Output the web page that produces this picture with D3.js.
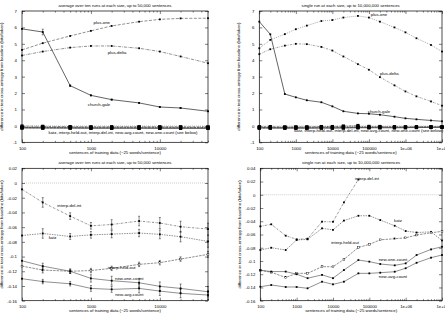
<!DOCTYPE html>
<html>
<head>
<meta charset="utf-8">
<script src="https://cdn.jsdelivr.net/npm/d3@7"></script>
<style>
  html, body { margin: 0; padding: 0; background: #fff; }
  svg { display: block; font-family: "Liberation Sans", Arial, sans-serif; }
</style>
</head>
<body>
<svg id="chart" width="445" height="314"></svg>
<script>
// training set sizes (sentences)
const sizesAvg = [100, 200, 500, 1000, 2000, 5000, 10000, 20000, 50000];
const sizesSingle = [100, 200, 500, 1000, 2000, 5000, 10000, 20000, 50000, 100000, 200000, 500000, 1000000, 2000000, 5000000, 10000000];

// top row, average runs
const plusOneAvg = [4.63, 5.04, 5.48, 5.79, 6.09, 6.35, 6.49, 6.55, 6.56];
const plusDeltaAvg = [4.29, 4.53, 4.77, 4.87, 4.87, 4.73, 4.53, 4.23, 3.82];
const churchGaleAvg = [5.91, 5.72, 2.45, 1.86, 1.6, 1.4, 1.15, 1.09, 0.89];
const churchGaleAvgErr = [0, 0.17, 0.05, 0.03, 0.03, 0.02, 0.02, 0.02, 0.02];

// top row, single run
const plusOneSingle = [4.73, 5.24, 5.59, 5.89, 6.11, 6.39, 6.45, 6.6, 6.7, 6.6, 6.35, 6.0, 5.7, 5.34, 4.93, 4.53];
const plusDeltaSingle = [4.37, 4.67, 4.89, 5.0, 4.98, 4.81, 4.59, 4.23, 3.76, 3.42, 2.97, 2.47, 2.1, 1.8, 1.49, 1.23];
const churchGaleSingle = [6.35, 5.58, 1.94, 1.74, 1.56, 1.44, 1.19, 0.89, 0.76, 0.74, 0.68, 0.56, 0.46, 0.4, 0.33, 0.28];

// bottom row, average runs (with error bars)
const interpDelIntAvg = [-0.0086, -0.0264, -0.045, -0.0582, -0.0564, -0.0517, -0.0544, -0.0594, -0.0626];
const interpDelIntErr = [0, 0.0065, 0.0045, 0.0045, 0.0065, 0.0065, 0.0075, 0.0075, 0.008];
const katzAvg = [-0.0714, -0.0686, -0.0727, -0.0705, -0.0695, -0.068, -0.0698, -0.073, -0.0794];
const katzErr = [0, 0.0065, 0.004, 0.0045, 0.005, 0.005, 0.006, 0.007, 0.008];
const interpHeldOutAvg = [-0.113, -0.1183, -0.12, -0.119, -0.116, -0.1106, -0.1083, -0.1034, -0.097];
const interpHeldOutErr = [0, 0.004, 0.003, 0.003, 0.003, 0.003, 0.003, 0.003, 0.004];
const newOneCountAvg = [-0.1057, -0.113, -0.12, -0.1297, -0.1328, -0.1356, -0.1405, -0.1433, -0.1478];
const newOneCountErr = [0, 0.004, 0.003, 0.005, 0.006, 0.006, 0.006, 0.006, 0.007];
const newAvgCountAvg = [-0.1301, -0.134, -0.137, -0.1433, -0.1446, -0.1433, -0.1469, -0.15, -0.1523];
const newAvgCountErr = [0, 0.003, 0.003, 0.004, 0.004, 0.006, 0.006, 0.006, 0.006];

// bottom row, single run
const interpDelIntSingle = [-0.0477, -0.0446, -0.0618, -0.0673, -0.0663, -0.0406, -0.0408, -0.0115, 0.023];
const katzSingle = [-0.0834, -0.08, -0.0834, -0.0683, -0.0673, -0.0507, -0.053, -0.039, -0.0317, -0.0317, -0.0382, -0.0468, -0.0548, -0.057, -0.056, -0.069];
const interpHeldOutSingle = [-0.1142, -0.117, -0.125, -0.1187, -0.1187, -0.1086, -0.1087, -0.0976, -0.0795, -0.075, -0.068, -0.0664, -0.065, -0.0608, -0.0574, -0.0553];
const newOneCountSingle = [-0.114, -0.116, -0.116, -0.12, -0.126, -0.121, -0.126, -0.1137, -0.0986, -0.101, -0.1046, -0.1066, -0.1036, -0.091, -0.0825, -0.0785];
const newAvgCountSingle = [-0.1389, -0.1363, -0.1393, -0.1393, -0.1413, -0.1313, -0.1353, -0.1313, -0.1187, -0.1187, -0.1177, -0.1162, -0.111, -0.1027, -0.095, -0.091];

// ticks
const xTicksShort = [100, 1000, 10000];
const xTicksLong = [100, 1000, 10000, 100000, 1000000, 10000000];
const xTickLabelsLong = ["100", "1000", "10000", "100000", "1e+06", "1e+07"];
const yTicksTop = [-1, 0, 1, 2, 3, 4, 5, 6, 7];
const yTicksBottomAvg = [-0.16, -0.14, -0.12, -0.1, -0.08, -0.06, -0.04, -0.02, 0, 0.02];
const yTicksBottomSingle = [-0.16, -0.14, -0.12, -0.1, -0.08, -0.06, -0.04, -0.02, 0, 0.02, 0.04];

const titleAvg = "average over ten runs at each size, up to 50,000 sentences";
const titleSingle = "single run at each size, up to 10,000,000 sentences";
const xTitle = "sentences of training data (~25 words/sentence)";
const yTitle = "difference in test cross-entropy from baseline (bits/token)";
const groupLabel = "katz, interp-held-out, interp-del-int, new-avg-count, new-one-count (see below)";

const svg = d3.select("#chart");
const FS = 4.3;

function zip(xs, ys, es) {
	return ys.map((v, i) => ({ size: xs[i], v: v, e: es ? es[i] : 0 }));
}

function drawPanel(p) {
	const g = svg.append("g");
	const x = d3.scaleLog().domain(p.xDomain).range([p.left, p.right]);
	const y = d3.scaleLinear().domain(p.yDomain).range([p.bottom, p.top]);

	// baseline
	g.append("line")
		.attr("x1", p.left).attr("x2", p.right)
		.attr("y1", y(0)).attr("y2", y(0))
		.attr("stroke", "#999").attr("stroke-width", 0.5)
		.attr("stroke-dasharray", "1,1");

	// minor x ticks
	const minors = [];
	for (let d = 100; d < p.xDomain[1]; d *= 10) {
		for (let k = 2; k <= 9; k++) if (d * k <= p.xDomain[1]) minors.push(d * k);
	}
	g.append("g").attr("transform", `translate(0,${p.bottom})`)
		.call(d3.axisBottom(x).tickValues(minors).tickSize(-1.5).tickFormat(""));
	g.append("g").attr("transform", `translate(0,${p.top})`)
		.call(d3.axisTop(x).tickValues(minors).tickSize(-1.5).tickFormat(""));

	// major x ticks
	g.append("g").attr("transform", `translate(0,${p.bottom})`)
		.call(d3.axisBottom(x).tickValues(p.xTicks).tickSize(-3).tickPadding(4.5)
			.tickFormat((d, i) => p.xLabels[i]));
	g.append("g").attr("transform", `translate(0,${p.top})`)
		.call(d3.axisTop(x).tickValues(p.xTicks).tickSize(-3).tickFormat(""));

	// y ticks
	g.append("g").attr("transform", `translate(${p.left},0)`)
		.call(d3.axisLeft(y).tickValues(p.yTicks).tickSize(-3).tickPadding(5)
			.tickFormat(d => String(+d.toFixed(2))));
	g.append("g").attr("transform", `translate(${p.right},0)`)
		.call(d3.axisRight(y).tickValues(p.yTicks).tickSize(-3).tickFormat(""));

	g.selectAll(".domain").remove();
	g.selectAll(".tick line").attr("stroke", "#000").attr("stroke-width", 0.5);
	g.selectAll(".tick text").attr("font-size", FS).attr("fill", "#000")
		.attr("font-family", "Liberation Sans, Arial, sans-serif");

	// frame
	g.append("rect")
		.attr("x", p.left).attr("y", p.top)
		.attr("width", p.right - p.left).attr("height", p.bottom - p.top)
		.attr("fill", "none").attr("stroke", "#000").attr("stroke-width", 0.7);

	const line = d3.line().x(d => x(d.size)).y(d => y(d.v));

	p.series.forEach(s => {
		const pts = zip(s.xs, s.ys, s.err);
		g.append("path").datum(pts)
			.attr("d", line)
			.attr("fill", "none")
			.attr("stroke", s.color || "#222")
			.attr("stroke-width", s.width || 0.5)
			.attr("stroke-dasharray", s.dash || null);

		// error bars
		const eb = pts.filter(d => d.e > 0);
		g.selectAll(null).data(eb).enter().append("path")
			.attr("d", d => {
				const cx = x(d.size), y0 = y(d.v - d.e), y1 = y(d.v + d.e);
				return `M${cx},${y0}V${y1}M${cx - 1},${y0}H${cx + 1}M${cx - 1},${y1}H${cx + 1}`;
			})
			.attr("stroke", "#000").attr("stroke-width", 0.45).attr("fill", "none");

		const ms = s.marker || 1.8;
		g.selectAll(null).data(pts).enter().append("rect")
			.attr("x", d => x(d.size) - ms / 2)
			.attr("y", d => y(d.v) - ms / 2)
			.attr("width", ms).attr("height", ms)
			.attr("fill", s.hollow ? "#fff" : "#000")
			.attr("stroke", s.hollow ? "#000" : "none")
			.attr("stroke-width", 0.4);
	});

	// in-plot labels
	p.labels.forEach(l => {
		g.append("text")
			.attr("x", x(l.at[0])).attr("y", y(l.at[1]))
			.attr("text-anchor", "middle").attr("dominant-baseline", "central")
			.attr("font-size", FS).attr("fill", "#000")
			.text(l.text);
	});

	// titles
	g.append("text")
		.attr("x", (p.left + p.right) / 2).attr("y", p.top - 4.5)
		.attr("text-anchor", "middle").attr("font-size", FS)
		.text(p.title);
	g.append("text")
		.attr("x", (p.left + p.right) / 2).attr("y", p.bottom + 11.5)
		.attr("text-anchor", "middle").attr("font-size", FS)
		.text(xTitle);
	g.append("text")
		.attr("transform", `translate(${p.left - 19},${(p.top + p.bottom) / 2}) rotate(-90)`)
		.attr("text-anchor", "middle").attr("font-size", FS)
		.text(yTitle);
}

function bottomSeries(xs, delInt, katz, heldOut, oneCount, avgCount, errs, big) {
	const m = big ? 3.2 : 1.8;
	return [
		{ xs: xs, ys: delInt, err: errs && errs[0], dash: "2,1,0.5,1", marker: m },
		{ xs: xs, ys: katz, err: errs && errs[1], dash: "1.5,1", marker: m },
		{ xs: xs, ys: heldOut, err: errs && errs[2], dash: "2.5,1", marker: m, hollow: !big },
		{ xs: xs, ys: oneCount, err: errs && errs[3], marker: m },
		{ xs: xs, ys: avgCount, err: errs && errs[4], marker: m }
	];
}

drawPanel({
	left: 22, right: 208, top: 11, bottom: 142.3,
	xDomain: [100, 50000], yDomain: [-1, 7],
	xTicks: xTicksShort, xLabels: ["100", "1000", "10000"], yTicks: yTicksTop,
	title: titleAvg,
	series: [
		{ xs: sizesAvg, ys: plusOneAvg, dash: "3,1.5" },
		{ xs: sizesAvg, ys: plusDeltaAvg, dash: "3,1,0.7,1" },
		{ xs: sizesAvg, ys: churchGaleAvg, err: churchGaleAvgErr, width: 0.7 }
	].concat(bottomSeries(sizesAvg, interpDelIntAvg, katzAvg, interpHeldOutAvg, newOneCountAvg, newAvgCountAvg, null, true)),
	labels: [
		{ text: "plus-one", at: [1436, 6.29] },
		{ text: "plus-delta", at: [2393, 4.5] },
		{ text: "church-gale", at: [1312, 1.33] },
		{ text: groupLabel, at: [2925, -0.42] }
	]
});

drawPanel({
	left: 259.3, right: 442, top: 11, bottom: 142.3,
	xDomain: [100, 10000000], yDomain: [-1, 7],
	xTicks: xTicksLong, xLabels: xTickLabelsLong, yTicks: yTicksTop,
	title: titleSingle,
	series: [
		{ xs: sizesSingle, ys: plusOneSingle, dash: "1,1", color: "#555" },
		{ xs: sizesSingle, ys: plusDeltaSingle, dash: "2,1,0.6,1", color: "#444" },
		{ xs: sizesSingle, ys: churchGaleSingle, width: 0.7 }
	].concat(bottomSeries(sizesSingle, interpDelIntSingle, katzSingle, interpHeldOutSingle, newOneCountSingle, newAvgCountSingle, null, true)),
	labels: [
		{ text: "plus-one", at: [188800, 6.76] },
		{ text: "plus-delta", at: [361000, 3.2] },
		{ text: "church-gale", at: [188800, 0.86] },
		{ text: groupLabel, at: [98600, -0.31] }
	]
});

drawPanel({
	left: 22, right: 208, top: 168.3, bottom: 300.7,
	xDomain: [100, 50000], yDomain: [-0.16, 0.02],
	xTicks: xTicksShort, xLabels: ["100", "1000", "10000"], yTicks: yTicksBottomAvg,
	title: titleAvg,
	series: bottomSeries(sizesAvg, interpDelIntAvg, katzAvg, interpHeldOutAvg, newOneCountAvg, newAvgCountAvg,
		[interpDelIntErr, katzErr, interpHeldOutErr, newOneCountErr, newAvgCountErr], false),
	labels: [
		{ text: "interp-del-int", at: [486, -0.0308] },
		{ text: "katz", at: [278, -0.0738] },
		{ text: "interp-held-out", at: [2800, -0.1146] },
		{ text: "new-one-count", at: [3600, -0.1295] },
		{ text: "new-avg-count", at: [3600, -0.1522] }
	]
});

drawPanel({
	left: 260.3, right: 442, top: 168.3, bottom: 300.7,
	xDomain: [100, 10000000], yDomain: [-0.16, 0.04],
	xTicks: xTicksLong, xLabels: xTickLabelsLong, yTicks: yTicksBottomSingle,
	title: titleSingle,
	series: bottomSeries(sizesSingle, interpDelIntSingle, katzSingle, interpHeldOutSingle, newOneCountSingle, newAvgCountSingle, null, false),
	labels: [
		{ text: "interp-del-int", at: [86300, 0.0253] },
		{ text: "katz", at: [615000, -0.0396] },
		{ text: "interp-held-out", at: [21400, -0.0728] },
		{ text: "new-one-count", at: [447000, -0.0985] },
		{ text: "new-avg-count", at: [447000, -0.1227] }
	]
});
</script>
</body>
</html>
